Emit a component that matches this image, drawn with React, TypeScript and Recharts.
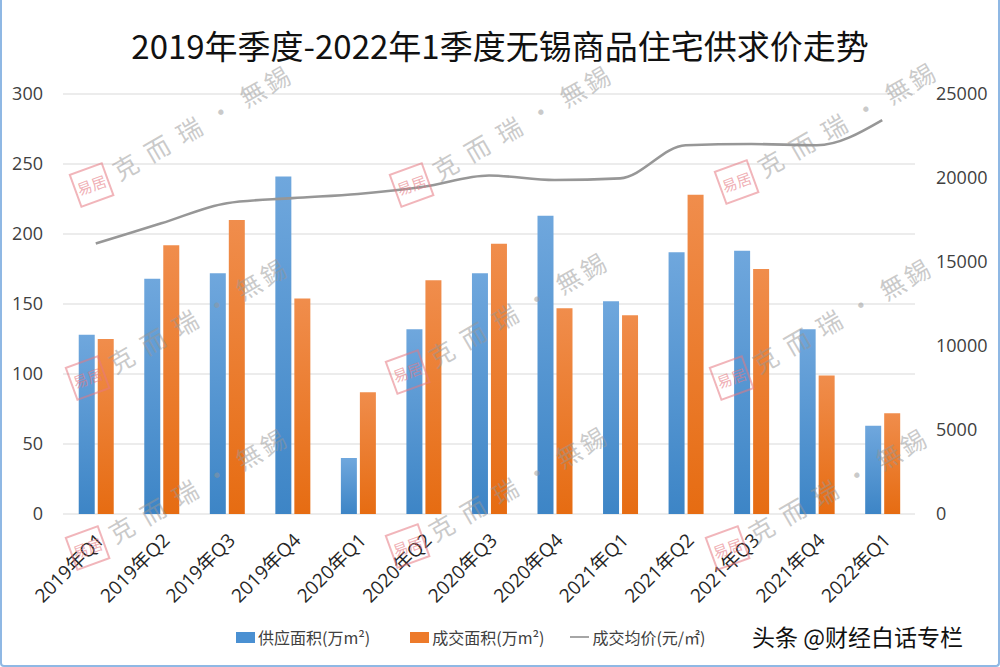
import React from 'react';
import {
  ComposedChart,
  Bar,
  Line,
  XAxis,
  YAxis,
  CartesianGrid,
} from 'recharts';

const quarters = [
  '2019年Q1', '2019年Q2', '2019年Q3', '2019年Q4',
  '2020年Q1', '2020年Q2', '2020年Q3', '2020年Q4',
  '2021年Q1', '2021年Q2', '2021年Q3', '2021年Q4',
  '2022年Q1',
];
// 供应面积(万m²)
const supply = [128, 168, 172, 241, 40, 132, 172, 213, 152, 187, 188, 132, 63];
// 成交面积(万m²)
const deal = [125, 192, 210, 154, 87, 167, 193, 147, 142, 228, 175, 99, 72];
// 成交均价(元/㎡)
const price = [16100, 17300, 18500, 18800, 19050, 19480, 20150, 19880, 19980, 21950, 22020, 21950, 23450];

const leftTicks = [0, 50, 100, 150, 200, 250, 300];
const rightTicks = [0, 5000, 10000, 15000, 20000, 25000];

const data = quarters.map((q, i) => ({
  quarter: q,
  supply: supply[i],
  deal: deal[i],
  price: price[i],
}));

const FONT = '"Open Sans", "Noto Sans CJK SC", sans-serif';

// 水印位置（印章中心）
const marks = [
  { x: 92, y: 185 }, { x: 412, y: 185 }, { x: 737, y: 182 },
  { x: 88, y: 378 }, { x: 408, y: 372 }, { x: 732, y: 378 },
  { x: 88, y: 548 }, { x: 408, y: 546 }, { x: 728, y: 548 },
];

const Watermark: React.FC<{ x: number; y: number }> = ({ x, y }) => (
  <div
    style={{
      position: 'absolute',
      left: x - 16,
      top: y - 9,
      height: 36,
      transform: 'rotate(-30deg)',
      transformOrigin: 'left center',
      display: 'flex',
      alignItems: 'center',
      pointerEvents: 'none',
      whiteSpace: 'nowrap',
    }}
  >
    <div
      style={{
        width: 36,
        height: 36,
        border: '2px solid rgba(230,120,130,0.55)',
        color: 'rgba(230,120,130,0.6)',
        fontSize: 15,
        lineHeight: '32px',
        textAlign: 'center',
        fontFamily: '"Noto Sans CJK SC", sans-serif',
        marginRight: 8,
        boxSizing: 'border-box',
        transform: 'rotate(10deg)',
      }}
    >
      易居
    </div>
    <span
      style={{
        color: 'rgba(150,150,150,0.5)',
        fontSize: 25,
        letterSpacing: 3,
        fontFamily: '"Noto Sans CJK SC", sans-serif',
      }}
    >
      克 而 瑞 · 無錫
    </span>
  </div>
);

const App: React.FC = () => {
  return (
    <div
      style={{
        position: 'absolute',
        left: 0,
        top: 0,
        width: 1000,
        height: 667,
        background: '#fff',
        overflow: 'hidden',
        fontFamily: FONT,
      }}
    >
      <div
        style={{
          position: 'absolute',
          left: 0,
          right: 0,
          bottom: 0,
          top: 0,
          borderLeft: '2px solid #8fb8e4',
          borderRight: '2px solid #8fb8e4',
          borderBottom: '2px solid #8fb8e4',
          borderRadius: '0 0 4px 4px',
          boxSizing: 'border-box',
        }}
      />
      <div
        style={{
          position: 'absolute',
          top: 25,
          left: 0,
          width: 1000,
          textAlign: 'center',
          fontSize: 33,
          lineHeight: '40px',
          color: '#111',
          fontFamily: '"Noto Sans CJK SC", sans-serif',
          fontWeight: 400,
        }}
      >
        2019年季度-2022年1季度无锡商品住宅供求价走势
      </div>

      <ComposedChart
        width={1000}
        height={667}
        data={data}
        margin={{ top: 94, right: 0, bottom: 58, left: 0 }}
        barCategoryGap="24%"
        barGap={3}
        style={{ position: 'absolute', left: 0, top: 0 }}
      >
        <defs>
          <linearGradient id="blueGrad" x1="0" y1="0" x2="0" y2="1">
            <stop offset="0%" stopColor="#6fa7dd" />
            <stop offset="100%" stopColor="#3d85c6" />
          </linearGradient>
          <linearGradient id="orangeGrad" x1="0" y1="0" x2="0" y2="1">
            <stop offset="0%" stopColor="#f08d4c" />
            <stop offset="100%" stopColor="#e66c12" />
          </linearGradient>
        </defs>
        <CartesianGrid yAxisId="left" vertical={false} stroke="#d9d9d9" strokeWidth={1.2} />
        <XAxis
          dataKey="quarter"
          interval={0}
          height={95}
          axisLine={false}
          tickLine={false}
          tickSize={0}
          tickMargin={18}
          tick={{ angle: -45, textAnchor: 'end', fontSize: 19, dx: 0, fill: '#262626', fontFamily: FONT }}
        />
        <YAxis
          yAxisId="left"
          width={63}
          domain={[0, 300]}
          ticks={leftTicks}
          axisLine={false}
          tickLine={false}
          tickSize={0}
          tickMargin={20}
          tick={{ fontSize: 18, fill: '#404040', fontFamily: FONT }}
        />
        <YAxis
          yAxisId="right"
          orientation="right"
          width={85}
          domain={[0, 25000]}
          ticks={rightTicks}
          axisLine={false}
          tickLine={false}
          tickSize={0}
          tickMargin={21}
          tick={{ fontSize: 18, fill: '#404040', textAnchor: 'start', fontFamily: FONT }}
        />
        <Bar yAxisId="left" dataKey="supply" fill="url(#blueGrad)" isAnimationActive={false} />
        <Bar yAxisId="left" dataKey="deal" fill="url(#orangeGrad)" isAnimationActive={false} />
        <Line
          yAxisId="right"
          dataKey="price"
          type="monotone"
          stroke="#979797"
          strokeWidth={2.6}
          dot={false}
          activeDot={false}
          isAnimationActive={false}
        />
      </ComposedChart>

      {marks.map((m, i) => (
        <Watermark key={i} x={m.x} y={m.y} />
      ))}

      <div
        style={{
          position: 'absolute',
          top: 625,
          left: 236,
          display: 'flex',
          alignItems: 'center',
          fontSize: 16,
          color: '#404040',
          fontFamily: '"Noto Sans CJK SC", sans-serif',
          whiteSpace: 'nowrap',
        }}
      >
        <span style={{ width: 19, height: 11, background: '#4a90d2', marginRight: 3 }} />
        <span>供应面积(万m²)</span>
        <span style={{ width: 19, height: 11, background: '#ed7a2a', marginLeft: 40, marginRight: 3 }} />
        <span>成交面积(万m²)</span>
        <span style={{ width: 19, height: 2, background: '#a6a6a6', marginLeft: 26, marginRight: 3 }} />
        <span>成交均价(元/㎡)</span>
      </div>
      <div
        style={{
          position: 'absolute',
          top: 619,
          left: 752,
          fontSize: 23,
          color: '#111',
          fontFamily: '"Noto Sans CJK SC", sans-serif',
          whiteSpace: 'nowrap',
          textShadow: '0 0 2px #fff',
        }}
      >
        头条 @财经白话专栏
      </div>
    </div>
  );
};

export default App;
